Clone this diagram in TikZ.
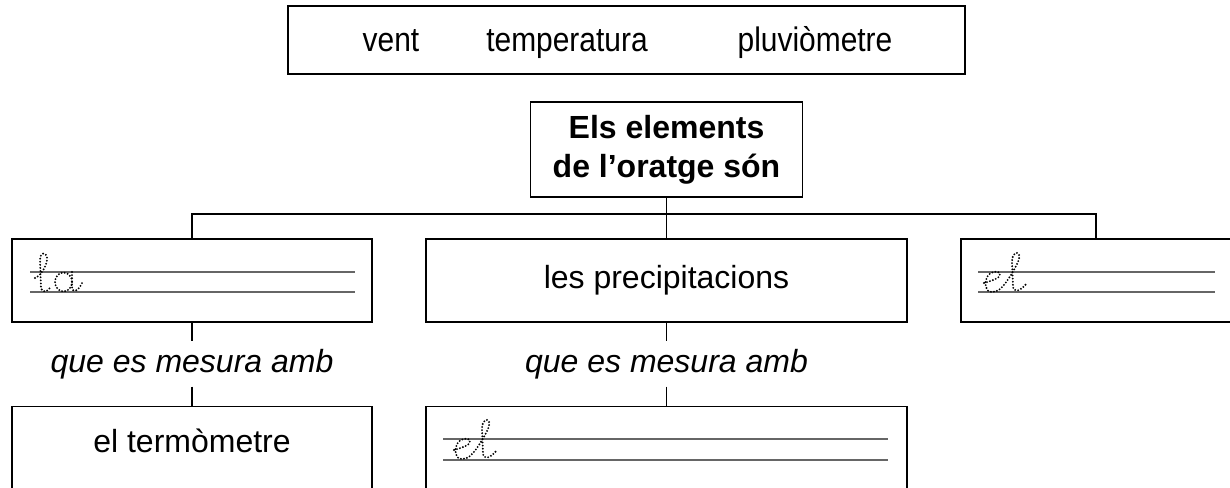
\documentclass[tikz,border=0pt]{standalone}
\usepackage{fontspec}
\setmainfont{Liberation Sans}
\newfontfamily\condfont[FakeStretch=0.88]{Liberation Sans}
\begin{document}
\begin{tikzpicture}[x=1pt,y=-1pt,
  box/.style={draw=black,line width=1.3pt,inner sep=0pt},
  conn/.style={draw=black,line width=1.3pt},
  bar/.style={draw=black!85,line width=1.8pt},
  guide/.style={draw=black!60,line width=1.6pt},
  trace/.style={draw=black,line width=2.1pt,line cap=round,dash pattern=on 0pt off 3.1pt},
  txt/.style={font=\fontsize{32}{38}\selectfont},
  wordtxt/.style={font=\condfont\fontsize{34}{40}\selectfont,anchor=base,inner sep=0pt},
  linktxt/.style={font=\itshape\fontsize{32}{38}\selectfont,inner sep=0pt,minimum height=45pt},
  cursel/.pic={
    \draw[trace] (1,-9) .. controls (8,-11) and (18,-14) .. (17,-18)
      .. controls (16,-22) and (7,-21) .. (4,-15)
      .. controls (1,-9) and (2,0) .. (9,0)
      .. controls (15,0) and (19,-4) .. (24,-11)
      .. controls (30,-20) and (38,-33) .. (36,-37)
      .. controls (34,-42) and (29,-38) .. (29,-30)
      -- (30,-6) .. controls (30,1) and (37,0) .. (44,-9);
  },
  cursla/.pic={
    \draw[trace] (2,-14) .. controls (8,-16) and (15,-28) .. (14,-35)
      .. controls (13,-40) and (7,-40) .. (7,-32)
      -- (8,-5) .. controls (8,1) and (14,0) .. (17,-4);
    \draw[trace] (30.5,-10) ellipse [x radius=8.5, y radius=9.5];
    \draw[trace] (39,-20) -- (39,-5) .. controls (39,1) and (45,0) .. (49,-9);
  }
]
\clip (0,0) rectangle (1230,487);

% word bank
\node[box,minimum width=677pt,minimum height=68pt] (bank) at (626.5,40) {};
\node[wordtxt] (w1) at (391,52) {vent};
\node[wordtxt] (w2) at (567,52) {temperatura};
\node[wordtxt] (w3) at (815,52) {pluviòmetre};

% main
\node[box,minimum width=272pt,minimum height=95pt,align=center,
      font=\bfseries\fontsize{32}{39}\selectfont] (main) at (666.5,149.5)
      {Els elements\\de l’oratge són};

\coordinate (j) at (666.5,214);

% second row
\node[box,minimum width=360pt,minimum height=83pt] (la) at (192,280.5) {};
\node[box,txt,minimum width=481pt,minimum height=83pt] (prec) at (666.5,280.5) {les precipitacions};
\node[box,minimum width=270pt,minimum height=83pt] (el) at (1096,280.5) {};

% connectors to second row
\draw[conn] (main) -- (j);
\draw[bar] (192,214) -- (1096,214);
\draw[conn] (j) -| (la.north);
\draw[conn] (j) -- (prec.north);
\draw[conn] (j) -| (el.north);

% writing guides
\draw[guide] (30,272) -- (355,272);
\draw[guide] (30,292) -- (355,292);
\draw[guide] (978,272) -- (1215,272);
\draw[guide] (978,292) -- (1215,292);
\pic at (33,292) {cursla};
\pic at (983,292) {cursel};

% link labels
\node[linktxt] (q1) at (192,364) {que es mesura amb};
\node[linktxt] (q2) at (666.5,364) {que es mesura amb};

% third row
\node[box,anchor=north,minimum width=360pt,text height=46pt,text depth=100pt,txt] (term) at (192,406) {el termòmetre};
\node[box,anchor=north,minimum width=481pt,minimum height=120pt] (pluv) at (666.5,406) {};

\draw[conn] (la) -- (q1);
\draw[conn] (q1) -- (term);
\draw[conn] (prec) -- (q2);
\draw[conn] (q2) -- (pluv);

\draw[guide] (443,439) -- (888,439);
\draw[guide] (443,460) -- (888,460);
\pic at (453,459) {cursel};
\end{tikzpicture}
\end{document}
